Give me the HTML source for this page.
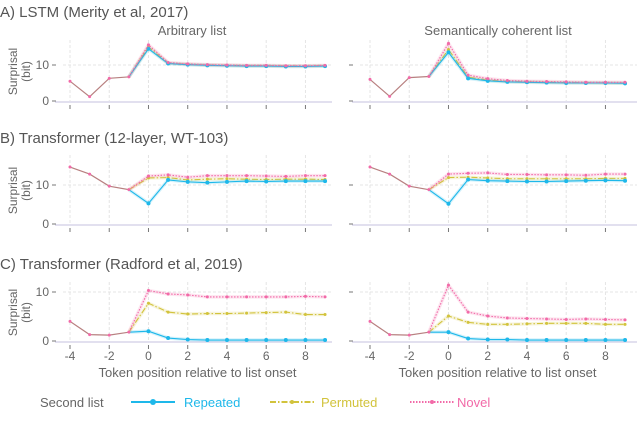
<!DOCTYPE html>
<html><head><meta charset="utf-8"><style>
body{margin:0;background:#fff;width:640px;height:433px;overflow:hidden;font-family:"Liberation Sans",sans-serif}
svg text{font-family:"Liberation Sans",sans-serif}
</style></head><body>
<svg id="chart" width="640" height="433" xmlns="http://www.w3.org/2000/svg"></svg>
<script>
const positions=[-4,-3,-2,-1,0,1,2,3,4,5,6,7,8,9];
const xTicks=[-4,-2,0,2,4,6,8];
const prefixA_L=[5.5,1.2,6.3,6.7];
const prefixA_R=[6,1.3,6.5,6.8];
const prefixB=[14.6,12.8,9.7,8.8];
const prefixC=[4,1.3,1.2,1.8];
const A_L_rep=[14.5,10.4,10.1,9.9,9.8,9.7,9.7,9.6,9.6,9.7];
const A_L_perm=[15,10.5,10.2,10,9.9,9.8,9.8,9.7,9.7,9.8];
const A_L_nov=[15.6,10.7,10.3,10.1,10,9.9,9.9,9.8,9.8,9.9];
const A_R_rep=[13.5,6.3,5.6,5.3,5.2,5.1,5,5,5,4.9];
const A_R_perm=[14.3,6.6,5.8,5.4,5.3,5.2,5.1,5.1,5,5];
const A_R_nov=[16,7.2,6.2,5.7,5.5,5.4,5.3,5.2,5.2,5.2];
const B_L_rep=[5.3,11.3,10.8,10.6,10.8,11,10.9,11,11,11];
const B_L_perm=[11.8,11.9,11.3,11.5,11.6,11.5,11.4,11.5,11.5,11.4];
const B_L_nov=[12.3,12.6,12,12.4,12.4,12.4,12.3,12.2,12.4,12.4];
const B_R_rep=[5.2,11.4,11.1,11,10.9,10.9,11,11.1,11.2,11.1];
const B_R_perm=[11.9,12,11.8,11.6,11.6,11.6,11.6,11.6,11.7,11.7];
const B_R_nov=[12.8,13,13.1,12.7,12.7,12.6,12.6,12.5,12.8,12.8];
const C_L_rep=[2,0.6,0.3,0.2,0.2,0.2,0.2,0.2,0.2,0.2];
const C_L_perm=[7.7,5.9,5.5,5.6,5.6,5.7,5.8,5.9,5.4,5.4];
const C_L_nov=[10.3,9.6,9.4,9,9,9,9,9,9.1,9];
const C_R_rep=[1.8,0.5,0.3,0.3,0.2,0.2,0.2,0.2,0.2,0.2];
const C_R_perm=[5.1,3.8,3.4,3.4,3.5,3.6,3.6,3.6,3.4,3.4];
const C_R_nov=[11.4,5.9,5.1,4.7,4.6,4.5,4.4,4.5,4.4,4.3];

const NS="http://www.w3.org/2000/svg";
const svg=document.getElementById('chart');
function mk(tag,attrs,parent){const e=document.createElementNS(NS,tag);for(const k in attrs)e.setAttribute(k,attrs[k]);(parent||svg).appendChild(e);return e;}
const COL={rep:'#1eb8ea',perm:'#d2c33c',nov:'#f26aa8',pre:'#b88080'};
const DASH={rep:'',perm:'6,2,1.5,2',nov:'1.5,1.5'};
const rows=[
 {id:'a',zero:101,ten:65,top:40,bottom:103,yt:[0,10],title:'A)  LSTM (Merity et al, 2017)',ty:12,
  L:[prefixA_L,A_L_rep,A_L_perm,A_L_nov],R:[prefixA_R,A_R_rep,A_R_perm,A_R_nov]},
 {id:'b',zero:224,ten:185,top:155,bottom:226,yt:[0,10],title:'B)  Transformer (12-layer, WT-103)',ty:138,
  L:[prefixB,B_L_rep,B_L_perm,B_L_nov],R:[prefixB,B_R_rep,B_R_perm,B_R_nov]},
 {id:'c',zero:341,ten:292,top:282,bottom:343,yt:[0,10],title:'C)  Transformer (Radford et al, 2019)',ty:264,
  L:[prefixC,C_L_rep,C_L_perm,C_L_nov],R:[prefixC,C_R_rep,C_R_perm,C_R_nov]}
];
const cols=[{x0:70,axL:55,axR:332},{x0:370,axL:352,axR:637}];
function xs(c,p){return cols[c].x0+(p+4)*19.62;}
rows.forEach((r,ri)=>{
 const ys=v=>r.zero-(r.ten-r.zero)*-v/10;
 const t=mk('text',{x:0,y:r.ty+5,'font-size':15,fill:'#555'});t.textContent=r.title;
 
 const yl=mk('text',{transform:`translate(20,${(r.top+r.bottom)/2}) rotate(-90)`,'text-anchor':'middle','font-size':12,fill:'#666'});
 
 const t1=mk('tspan',{x:0,dy:-3},yl);t1.textContent='Surprisal';
 const t2=mk('tspan',{x:0,dy:13},yl);t2.textContent='(bit)';
 [0,1].forEach(c=>{
  const g=mk('g',{});
  
  xTicks.forEach(p=>{mk('line',{x1:xs(c,p),x2:xs(c,p),y1:r.top,y2:r.zero,stroke:'#e4e4e4','stroke-dasharray':'3,2'},g);
   mk('line',{x1:xs(c,p),x2:xs(c,p),y1:r.zero+4,y2:r.zero+8,stroke:'#777'},g);});
  mk('line',{x1:cols[c].axL+8,x2:cols[c].axR,y1:ys(10),y2:ys(10),stroke:'#e4e4e4','stroke-dasharray':'3,2'},g);
  mk('line',{x1:cols[c].axL,x2:cols[c].axR,y1:r.zero+1,y2:r.zero+1,stroke:'#d9d6ea','stroke-width':1.5},g);
  r.yt.forEach(v=>{mk('line',{x1:cols[c].axL-3,x2:cols[c].axL+1,y1:ys(v),y2:ys(v),stroke:'#777'},g);
   if(c===0){const l=mk('text',{x:cols[c].axL-6,y:ys(v)+4,'text-anchor':'end','font-size':12,fill:'#666'},g);l.textContent=v;}});
  if(ri===2){xTicks.forEach(p=>{const l=mk('text',{x:xs(c,p),y:360,'text-anchor':'middle','font-size':12,fill:'#666'},g);l.textContent=p;});
   const xt=mk('text',{x:xs(c,2.5),y:377,'text-anchor':'middle','font-size':13,fill:'#666'},g);xt.textContent='Token position relative to list onset';
   }
  const d=r[c?'R':'L'];
  const pre=d[0];
  ['perm','rep','nov'].forEach(k=>{
   const vals=d[k==='rep'?1:k==='perm'?2:3];
   const pts=[[-1,pre[3]]].concat(vals.map((v,i)=>[i,v]));
   const s=pts.map(q=>xs(c,q[0])+','+ys(q[1])).join(' ');
   mk('polyline',{points:s,fill:'none',stroke:COL[k],'stroke-opacity':0.18,'stroke-width':3.5},g);
   const pl=mk('polyline',{points:s,fill:'none',stroke:COL[k],'stroke-width':1.1,'stroke-dasharray':DASH[k]},g);
   
   vals.forEach((v,i)=>{mk('circle',{cx:xs(c,i),cy:ys(v),r:k==='rep'?2:1.5,fill:COL[k]},g);});
  });
  const ps=pre.map((v,i)=>xs(c,positions[i])+','+ys(v)).join(' ');
  const pp=mk('polyline',{points:ps,fill:'none',stroke:COL.pre,'stroke-width':1.2},g);
  
  pre.forEach((v,i)=>mk('circle',{cx:xs(c,positions[i]),cy:ys(v),r:1.5,fill:COL.nov},g));
 });
});
[['Arbitrary list',192],['Semantically coherent list',498]].forEach(([s,x],i)=>{const t=mk('text',{x:x,y:35,'text-anchor':'middle','font-size':13,fill:'#666'});t.textContent=s;
 });
const lg=mk('g',{});
const lt=mk('text',{x:40,y:407,'font-size':13,fill:'#666'},lg);lt.textContent='Second list';
[['rep','Repeated',131,184],['perm','Permuted',270,321],['nov','Novel',410,457]].forEach(([k,s,x1,tx])=>{
 const e=mk('g',{},lg);
 mk('line',{x1:x1,x2:x1+44,y1:402,y2:402,stroke:COL[k],'stroke-width':2,'stroke-dasharray':DASH[k]},e);
 mk('circle',{cx:x1+22,cy:402,r:k==='rep'?3:2,fill:COL[k]},e);
 const t=mk('text',{x:tx,y:407,'font-size':13,fill:COL[k]},e);t.textContent=s;});
</script>
</body></html>
